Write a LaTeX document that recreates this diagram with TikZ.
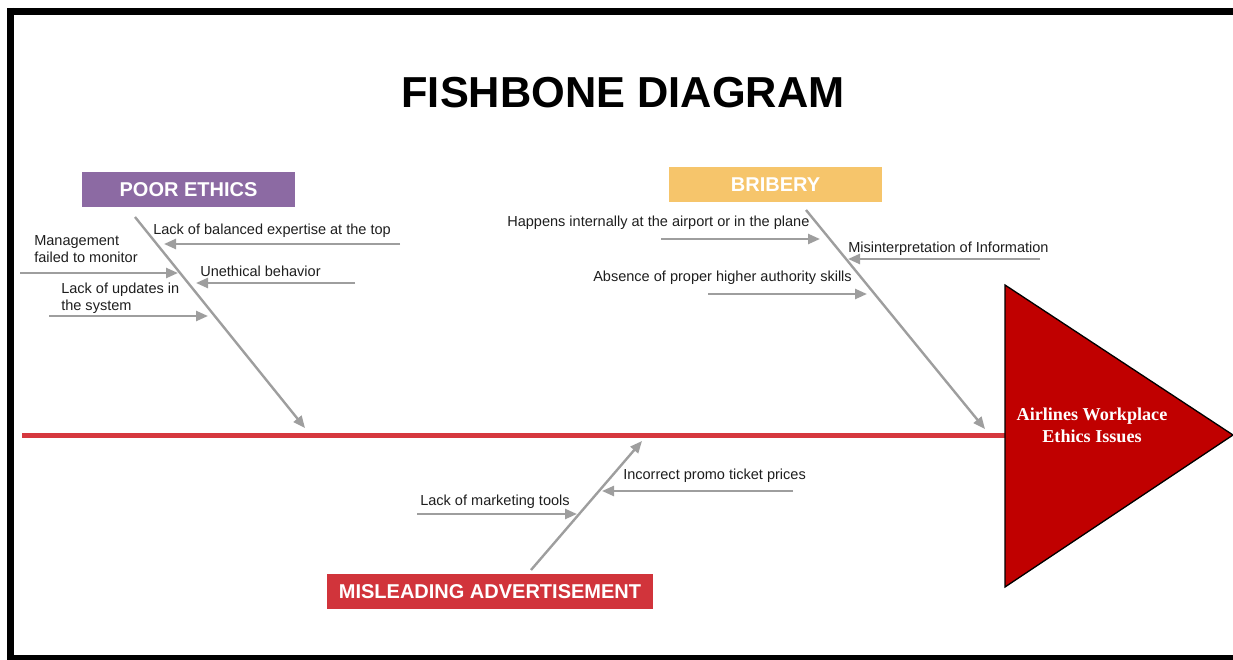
\documentclass[tikz,border=0pt]{standalone}
\usepackage{fontspec}
\setmainfont{Liberation Sans}
\newfontfamily\headserif{Liberation Serif}
\usetikzlibrary{arrows.meta}
\definecolor{spinered}{RGB}{214,56,62}
\definecolor{boxred}{RGB}{209,52,59}
\definecolor{boxpurple}{RGB}{140,106,163}
\definecolor{boxyellow}{RGB}{246,197,107}
\definecolor{headred}{RGB}{192,0,0}
\definecolor{bonegray}{RGB}{158,158,158}
\definecolor{labeltext}{RGB}{30,30,30}
\begin{document}
\begin{tikzpicture}[x=0.75pt,y=-0.75pt,
  bone/.style={draw=bonegray, line width=1.8pt, -{Triangle[length=9pt,width=7.5pt]}},
  cause/.style={font=\fontsize{10.9}{12.75}\selectfont, inner sep=0pt, anchor=west, align=left, text=labeltext, yshift=-1.5pt},
  catbox/.style={font=\bfseries\fontsize{15}{18}\selectfont, text=white, minimum height=26.25pt, inner sep=0pt},
  frame/.style={draw=black, line width=5.25pt}]
\path[use as bounding box] (0,0) rectangle (1233,660);
% frame
\coordinate (ftl) at (7,11.5);
\coordinate (ftr) at (1233,11.5);
\coordinate (flt) at (10.5,8);
\coordinate (flb) at (10.5,660);
\coordinate (fbl) at (7,658);
\coordinate (fbr) at (1233,658);
\draw[frame] (ftl) -- (ftr);
\draw[frame] (flt) -- (flb);
\draw[draw=black, line width=4pt] (fbl) -- (fbr);
% title
\node[font=\bfseries\fontsize{32.5}{38}\selectfont, inner sep=0pt] (title) at (623,93) {FISHBONE DIAGRAM};
% spine and head
\coordinate (spinestart) at (22,435);
\coordinate (hA) at (1005,285);
\coordinate (hB) at (1005,587);
\coordinate (hC) at (1233,435);
\coordinate (spineend) at (1005,435);
\draw[draw=spinered, line width=3.75pt] (spinestart) -- (spineend);
\filldraw[fill=headred, draw=black, line width=1pt] (hA) -- (hC) -- (hB) -- cycle;
\node[font=\headserif\bfseries\fontsize{13.6}{16.5}\selectfont, text=white, align=center, inner sep=0pt] (head) at (1092,425) {Airlines Workplace\\Ethics Issues};
% categories
\node[catbox, fill=boxpurple, minimum width=159.75pt] (poor) at (188.5,189.5) {POOR ETHICS};
\node[catbox, fill=boxyellow, minimum width=159.75pt] (brib) at (775.5,184.5) {BRIBERY};
\node[catbox, fill=boxred, minimum width=244.5pt] (misl) at (490,591.5) {MISLEADING ADVERTISEMENT};
% main bones
\coordinate (pe1) at (135,217);
\coordinate (pe2) at (305,428);
\draw[bone] (pe1) -- (pe2);
\coordinate (br1) at (806,210);
\coordinate (br2) at (985,429);
\draw[bone] (br1) -- (br2);
\coordinate (ma1) at (531,570);
\coordinate (ma2) at (642,441);
\draw[bone] (ma1) -- (ma2);
% poor ethics causes
\node[cause] (c1) at (153,229) {Lack of balanced expertise at the top};
\coordinate (c1s) at (400,244); \coordinate (c1e) at (164,244);
\draw[bone] (c1s) -- (c1e);
\node[cause] (c2) at (34,247.5) {Management\\failed to monitor};
\coordinate (c2s) at (20,273); \coordinate (c2e) at (178,273);
\draw[bone] (c2s) -- (c2e);
\node[cause] (c3) at (200,269) {Unethical behavior};
\coordinate (c3s) at (355,283); \coordinate (c3e) at (196,283);
\draw[bone] (c3s) -- (c3e);
\node[cause] (c4) at (61,296) {Lack of updates in\\the system};
\coordinate (c4s) at (49,316); \coordinate (c4e) at (208,316);
\draw[bone] (c4s) -- (c4e);
% bribery causes
\node[cause] (b1) at (507,221) {Happens internally at the airport or in the plane};
\coordinate (b1s) at (661,239); \coordinate (b1e) at (820,239);
\draw[bone] (b1s) -- (b1e);
\node[cause] (b2) at (848,247) {Misinterpretation of Information};
\coordinate (b2s) at (1040,259); \coordinate (b2e) at (848,259);
\draw[bone] (b2s) -- (b2e);
\node[cause] (b3) at (593,276) {Absence of proper higher authority skills};
\coordinate (b3s) at (708,294); \coordinate (b3e) at (867,294);
\draw[bone] (b3s) -- (b3e);
% misleading causes
\node[cause] (m1) at (623,474) {Incorrect promo ticket prices};
\coordinate (m1s) at (793,491); \coordinate (m1e) at (602,491);
\draw[bone] (m1s) -- (m1e);
\node[cause] (m2) at (420,500) {Lack of marketing tools};
\coordinate (m2s) at (417,514); \coordinate (m2e) at (577,514);
\draw[bone] (m2s) -- (m2e);
\end{tikzpicture}
\end{document}
